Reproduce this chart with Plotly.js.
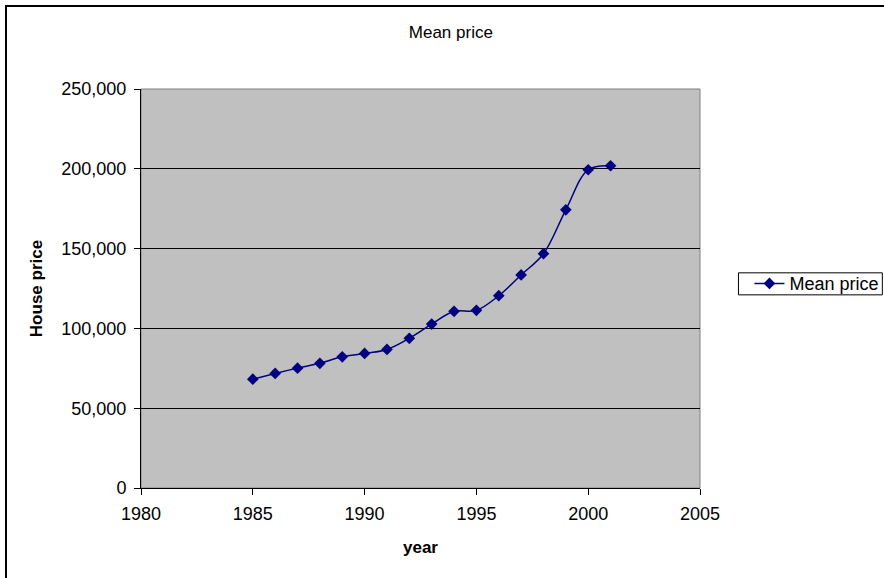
<!DOCTYPE html>
<html>
<head>
<meta charset="utf-8">
<script src="https://cdn.plot.ly/plotly-3.0.1.min.js"></script>
<style>
html,body{margin:0;padding:0;background:#fff;overflow:hidden;}
#chart{width:884px;height:578px;position:absolute;left:0;top:0;}
#frame{position:absolute;left:5px;top:5px;width:900px;height:600px;border:2px solid #000;pointer-events:none;box-sizing:border-box;}
</style>
</head>
<body>
<div id="chart"></div>
<div id="frame"></div>
<script>
const years = [1985,1986,1987,1988,1989,1990,1991,1992,1993,1994,1995,1996,1997,1998,1999,2000,2001];
const meanPrice = [68200,71800,75100,78100,82200,84300,86800,93800,102700,110700,111300,120500,133500,146800,174300,199400,201900];
const seriesName = 'Mean price';
const chartTitle = 'Mean price';
const xTitle = 'year';
const yTitle = 'House price';

const FONT = 'Liberation Sans, Arial, sans-serif';

Plotly.newPlot('chart', [{
  x: years, y: meanPrice, name: seriesName, type: 'scatter', mode: 'lines+markers',
  line: {color: '#000080', width: 1.5, shape: 'spline', smoothing: 1},
  marker: {symbol: 'diamond', size: 9, color: '#000080'}
}], {
  width: 884, height: 578,
  margin: {l: 141, r: 183.5, t: 89, b: 90, autoexpand: false},
  paper_bgcolor: '#ffffff', plot_bgcolor: '#c0c0c0',
  font: {family: FONT, size: 18, color: '#000'},
  title: {text: chartTitle, font: {family: FONT, size: 17, color: '#000'}, x: 0.51, xanchor: 'center', y: 0.945, yanchor: 'middle'},
  showlegend: true,
  legend: {x: (750 - 141) / 559.5, xanchor: 'left', y: 0.512, yanchor: 'middle', borderwidth: 0, bgcolor: 'rgba(0,0,0,0)', font: {family: FONT, size: 18}},
  xaxis: {range: [1980, 2005], dtick: 5, tick0: 1980, showgrid: false, zeroline: false,
    showline: true, linecolor: '#000', linewidth: 1, ticks: 'outside', ticklen: 6, tickcolor: '#000',
    ticklabelstandoff: 3,
    tickfont: {family: FONT, size: 18},
    title: {text: '<b>' + xTitle + '</b>', font: {family: FONT, size: 17}, standoff: 18}},
  yaxis: {range: [0, 250000], dtick: 50000, tickformat: ',d', showgrid: true, gridcolor: '#000', gridwidth: 1, zeroline: false,
    showline: true, linecolor: '#000', linewidth: 1, ticks: 'outside', ticklen: 6, tickcolor: '#000',
    ticklabelstandoff: 4,
    tickfont: {family: FONT, size: 18},
    title: {text: '<b>' + yTitle + '</b>', font: {family: FONT, size: 17}, standoff: 14}},
  shapes: [
    {type: 'rect', xref: 'paper', yref: 'paper', x0: 0, x1: 1, y0: 0, y1: 1, line: {color: '#808080', width: 1}, layer: 'below'},
    {type: 'rect', xref: 'paper', yref: 'paper', x0: (739 - 141) / 559.5, x1: (883 - 141) / 559.5, y0: (488 - 295) / 398.7, y1: (488 - 273) / 398.7, line: {color: '#000', width: 1}, fillcolor: 'rgba(0,0,0,0)'}
  ]
}, {displayModeBar: false});
</script>
</body>
</html>
